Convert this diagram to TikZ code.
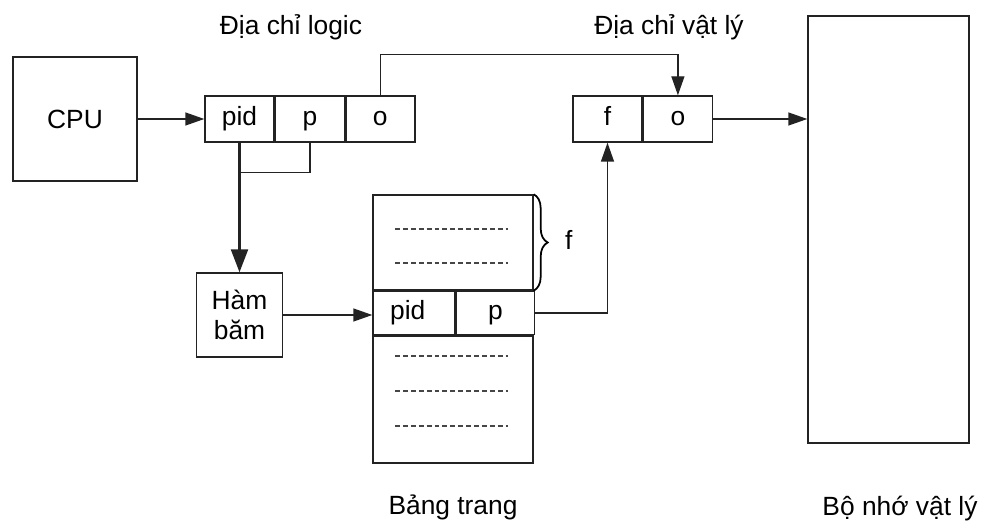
\documentclass[tikz,border=0pt]{standalone}
\usepackage{fontspec}
\setmainfont{Liberation Sans}
\usepackage{xcolor}
\definecolor{linegray}{RGB}{35,35,35}
\definecolor{dashgray}{RGB}{70,70,70}
\usetikzlibrary{arrows.meta,positioning,calc,decorations.pathreplacing}

\begin{document}
\begin{tikzpicture}[
    font=\fontsize{15}{17.5}\selectfont,
    box/.style={draw=linegray, line width=0.8pt, inner sep=0pt, align=center},
    cell/.style={box, minimum width=1.38cm, minimum height=0.92cm, text height=10.6pt, text depth=3pt},
    rowcell/.style={box, minimum height=0.86cm, text height=10.6pt, text depth=3pt},
    link/.style={draw=linegray, line width=0.8pt},
    arr/.style={link, -{Triangle[length=0.38cm, width=0.26cm]}},
    dashrow/.style={draw=dashgray, line width=0.9pt, dash pattern=on 2.8pt off 1.7pt}
]
        \useasboundingbox (0,0) rectangle (19.68,10.54);

        % CPU
        \node[box, minimum width=2.48cm, minimum height=2.48cm] (cpu) at (1.5,8.16) {CPU};

        % Dia chi logic: pid | p | o
        \node[cell] (lpid) at (4.79,8.16) {pid};
        \node[cell, right=0pt of lpid] (lp) {p};
        \node[cell, right=0pt of lp] (lo) {o};

        % Dia chi vat ly: f | o
        \node[cell] (pf) at (12.15,8.16) {f};
        \node[cell, right=0pt of pf] (po) {o};

        % Bo nho vat ly
        \node[box, minimum width=3.22cm, minimum height=8.54cm] (mem) at (17.77,5.95) {};

        % Ham bam
        \node[box, minimum width=1.72cm, minimum height=1.68cm] (hash) at (4.79,4.24) {Hàm\\băm};

        % Bang trang
        \node[box, minimum width=3.2cm, minimum height=1.9cm] (ttop) at (9.06,5.69) {};
        \node[rowcell, minimum width=1.64cm, anchor=north west] (tpid) at (ttop.south west) {pid\hspace{0.25cm}};
        \node[rowcell, minimum width=1.56cm, right=0pt of tpid] (tp) {p};
        \node[box, minimum width=3.2cm, minimum height=2.54cm, anchor=north west] (tbot) at (tpid.south west) {};
        \foreach \y in {5.96, 5.28, 3.42, 2.72, 2.02}
            \draw[dashrow] (7.9,\y) -- (10.16,\y);
        \draw[draw=black, line width=1pt, decorate, decoration={brace, amplitude=0.28cm}]
            (ttop.north east) -- (ttop.south east);
        \node (flbl) at ($(ttop.east)+(0.7,0.05)$) {f};

        % Connectors
        \draw[arr] (cpu.east) -- (lpid.west);
        \draw[link] (lp.south) -- ++(0,-0.6) -| (lpid.south);
        \draw[link, line width=1.3pt, -{Triangle[length=0.46cm, width=0.34cm]}] (lpid.south) -- (hash.north);
        \draw[arr] (hash.east) -- (hash.east -| tpid.west);
        \draw[arr] (lo.north) -- ++(0,0.82) -| (po.north);
        \draw[arr] (tp.east) -| (pf.south);
        \draw[arr] (po.east) -- (po.east -| mem.west);

        % Labels
        \node[anchor=base] (lbllog) at (5.82,9.84) {Địa chỉ logic};
        \node[anchor=base] (lblphy) at (13.38,9.84) {Địa chỉ vật lý};
        \node[anchor=base] (lbltab) at (9.06,0.24) {Bảng trang};
        \node[anchor=base] (lblmem) at (18.0,0.22) {Bộ nhớ vật lý};
    \end{tikzpicture}
\end{document}
